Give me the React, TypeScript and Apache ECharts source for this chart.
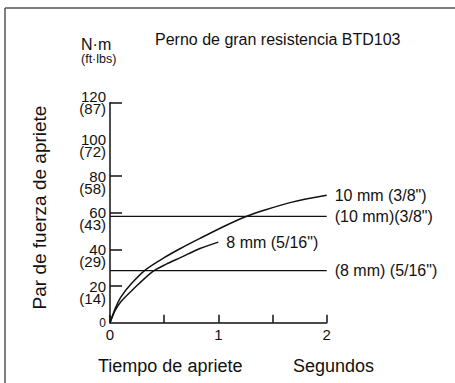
import React, { useEffect, useRef } from "react";
import * as echarts from "echarts";

// Data
const timeTicks = [0, 0.5, 1, 1.5, 2];
const yTickNm = [20, 40, 60, 80, 100, 120];
const yTickFt = [14, 29, 43, 58, 72, 87];
const yTickMarks = [20, 40, 60, 80, 120];

const bolt10Time = [0, 0.05, 0.1, 0.2, 0.33, 0.5, 0.65, 0.83, 1.05, 1.25, 1.43, 1.68, 2];
const bolt10Torque = [0, 8, 14, 21.5, 29, 35.5, 40.5, 46, 52.5, 57.8, 61.5, 65.8, 69.5];

const bolt8Time = [0, 0.05, 0.1, 0.2, 0.39, 0.52, 0.65, 0.83, 1.0];
const bolt8Torque = [0, 7, 11.5, 17.5, 27.8, 32, 35.5, 40.5, 44];

const spec10 = 58;
const spec8 = 28.5;

const label10Curve = '10 mm (3/8")';
const label8Curve = '8 mm (5/16")';
const label10Spec = '(10 mm)(3/8")';
const label8Spec = '(8 mm) (5/16")';

const titleText = "Perno de gran resistencia BTD103";
const unitNm = "N·m";
const unitFt = "(ft·lbs)";
const yName = "Par de fuerza de apriete";
const xName = "Tiempo de apriete";
const xUnit = "Segundos";

const FONT = "Liberation Sans, Arial, Helvetica, sans-serif";

export default function App() {
  const ref = useRef<HTMLDivElement>(null);
  useEffect(() => {
    if (!ref.current) return;
    const chart = echarts.init(ref.current, null, { renderer: "svg" });
    const pair = (xs: number[], ys: number[]) => xs.map((x, i) => [x, ys[i]]);
    const ink = "#111";
    const endLbl = (text: string) => ({
      show: true,
      formatter: text,
      distance: 8,
      fontSize: 16,
      color: ink,
      fontFamily: FONT,
    });
    chart.setOption({
      animation: false,
      backgroundColor: "#fff",
      textStyle: { fontFamily: FONT },
      grid: { left: 110, right: 128.3, top: 102.7, bottom: 60.2 },
      xAxis: {
        type: "value",
        min: timeTicks[0],
        max: timeTicks[timeTicks.length - 1],
        interval: 0.5,
        splitLine: { show: false },
        axisLine: { show: true, onZero: false, lineStyle: { color: ink, width: 1.5 } },
        axisTick: { show: true, inside: true, length: 8, lineStyle: { color: ink, width: 1.5 } },
        axisLabel: {
          margin: 4,
          fontSize: 15,
          color: ink,
          fontFamily: FONT,
          formatter: (v: number) => (Number.isInteger(v) ? String(v) : ""),
        },
      },
      yAxis: {
        type: "value",
        min: 0,
        max: 120,
        interval: 20,
        splitLine: { show: false },
        axisLine: { show: true, onZero: false, lineStyle: { color: ink, width: 1.5 } },
        axisTick: {
          show: true,
          inside: true,
          length: 12,
          customValues: yTickMarks,
          lineStyle: { color: ink, width: 1.5 },
        },
        axisLabel: {
          margin: 4,
          color: ink,
          fontFamily: FONT,
          fontSize: 15,
          lineHeight: 12.2,
          formatter: (v: number) => {
            if (v === 0) return "{z|0}";
            const i = yTickNm.indexOf(v);
            const ft = i >= 0 ? yTickFt[i] : "";
            if (v === 120) return `${v}\n(${ft})`;
            return ` \n${v}\n(${ft})`;
          },
          rich: {
            z: { fontSize: 12, color: ink, fontFamily: FONT, lineHeight: 12 },
          },
        },
      },
      graphic: [
        {
          type: "line",
          shape: { x1: 5, y1: 8, x2: 455, y2: 8 },
          style: { stroke: "#555", lineWidth: 1.5 },
          silent: true,
        },
        {
          type: "line",
          shape: { x1: 5, y1: 8, x2: 5, y2: 383 },
          style: { stroke: "#555", lineWidth: 1.5 },
          silent: true,
        },
        {
          type: "text",
          x: 155,
          y: 39.5,
          style: { text: titleText, fontSize: 16, fontFamily: FONT, fill: ink, textAlign: "left", textVerticalAlign: "middle" },
        },
        {
          type: "text",
          x: 81,
          y: 44,
          style: { text: unitNm, fontSize: 16, fontFamily: FONT, fill: ink, textAlign: "left", textVerticalAlign: "middle" },
        },
        {
          type: "text",
          x: 81,
          y: 58.5,
          style: { text: unitFt, fontSize: 12.5, fontFamily: FONT, fill: ink, textAlign: "left", textVerticalAlign: "middle" },
        },
        {
          type: "text",
          x: 39,
          y: 207.5,
          rotation: Math.PI / 2,
          style: { text: yName, fontSize: 19, fontFamily: FONT, fill: ink, textAlign: "center", textVerticalAlign: "middle" },
        },
        {
          type: "text",
          x: 98,
          y: 365.5,
          style: { text: xName, fontSize: 18, fontFamily: FONT, fill: ink, textAlign: "left", textVerticalAlign: "middle" },
        },
        {
          type: "text",
          x: 293,
          y: 365.5,
          style: { text: xUnit, fontSize: 18, fontFamily: FONT, fill: ink, textAlign: "left", textVerticalAlign: "middle" },
        },
      ],
      series: [
        {
          type: "line",
          data: pair(bolt10Time, bolt10Torque),
          smooth: 0.3,
          showSymbol: false,
          lineStyle: { color: ink, width: 1.5 },
          endLabel: endLbl(label10Curve),
          silent: true,
        },
        {
          type: "line",
          data: pair(bolt8Time, bolt8Torque),
          smooth: 0.3,
          showSymbol: false,
          lineStyle: { color: ink, width: 1.5 },
          endLabel: endLbl(label8Curve),
          silent: true,
        },
        {
          type: "line",
          data: [[0, spec10], [2, spec10]],
          showSymbol: false,
          lineStyle: { color: ink, width: 1.3 },
          endLabel: endLbl(label10Spec),
          silent: true,
        },
        {
          type: "line",
          data: [[0, spec8], [2, spec8]],
          showSymbol: false,
          lineStyle: { color: ink, width: 1.3 },
          endLabel: endLbl(label8Spec),
          silent: true,
        },
      ],
    });
    return () => chart.dispose();
  }, []);
  return (
    <div
      ref={ref}
      style={{ position: "absolute", left: 0, top: 0, width: 455, height: 383, background: "#fff" }}
    />
  );
}
